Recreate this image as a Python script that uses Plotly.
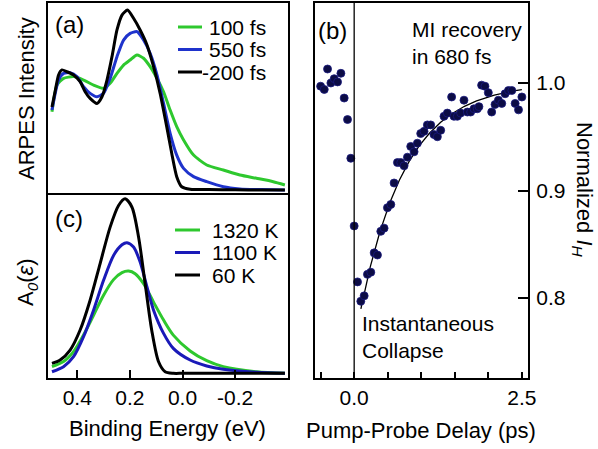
import numpy as np
import plotly.graph_objects as go

W, H = 598, 449
FONT = "Liberation Sans"

# ---------------- Panel (a): ARPES spectra (binding energy eV, intensity a.u.) -------------
a_names = ["100 fs", "550 fs", "-200 fs"]
a_colors = ["#2ec82e", "#1f33cc", "#000000"]

a_black_E = [0.496, 0.483, 0.471, 0.458, 0.439, 0.414, 0.389, 0.370, 0.351, 0.325, 0.306, 0.287,
             0.268, 0.249, 0.230, 0.209, 0.186, 0.161, 0.135, 0.110, 0.085, 0.060, 0.041, 0.022,
             0.003, -0.029, -0.100, -0.200, -0.300, -0.389]
a_black_I = [0.461, 0.556, 0.639, 0.667, 0.657, 0.639, 0.602, 0.546, 0.509, 0.481, 0.518, 0.611,
             0.741, 0.889, 0.972, 1.000, 0.954, 0.889, 0.806, 0.685, 0.537, 0.352, 0.204, 0.074,
             0.018, 0.004, 0.002, 0.001, 0.000, 0.000]

a_blue_E = [0.496, 0.471, 0.452, 0.427, 0.401, 0.376, 0.351, 0.325, 0.300, 0.275, 0.249, 0.224,
            0.199, 0.173, 0.148, 0.123, 0.097, 0.072, 0.047, 0.022, -0.004, -0.042, -0.092,
            -0.155, -0.218, -0.300, -0.389]
a_blue_I = [0.444, 0.611, 0.648, 0.652, 0.630, 0.574, 0.537, 0.518, 0.537, 0.620, 0.741, 0.833,
            0.870, 0.880, 0.833, 0.759, 0.639, 0.481, 0.315, 0.194, 0.120, 0.074, 0.046,
            0.018, 0.006, 0.002, 0.000]

a_green_E = [0.496, 0.477, 0.452, 0.414, 0.376, 0.338, 0.300, 0.275, 0.249, 0.224, 0.199, 0.173,
             0.148, 0.123, 0.097, 0.072, 0.047, 0.022, -0.004, -0.042, -0.092, -0.155, -0.218,
             -0.281, -0.345, -0.389]
a_green_I = [0.435, 0.583, 0.620, 0.630, 0.611, 0.583, 0.565, 0.593, 0.648, 0.694, 0.722, 0.750,
             0.732, 0.685, 0.620, 0.546, 0.444, 0.352, 0.278, 0.194, 0.139, 0.111, 0.083,
             0.065, 0.046, 0.028]

# ---------------- Panel (c): model spectral functions A0(eps) -------------
c_names = ["1320 K", "1100 K", "60 K"]
c_colors = ["#2ec82e", "#1a1ab8", "#000000"]

c_black_E = [0.496, 0.465, 0.427, 0.389, 0.351, 0.313, 0.275, 0.243, 0.218, 0.192, 0.167, 0.142,
             0.117, 0.091, 0.066, 0.035, 0.000, -0.100, -0.200, -0.300, -0.389]
c_black_I = [0.057, 0.076, 0.133, 0.248, 0.419, 0.629, 0.838, 0.962, 1.000, 0.952, 0.781, 0.514,
             0.247, 0.066, 0.009, 0.000, 0.000, 0.000, 0.000, 0.000, 0.000]

c_blue_E = [0.496, 0.452, 0.414, 0.376, 0.338, 0.300, 0.262, 0.230, 0.211, 0.186, 0.161, 0.135,
            0.110, 0.072, 0.035, -0.029, -0.092, -0.155, -0.282, -0.389]
c_blue_I = [0.009, 0.038, 0.095, 0.210, 0.362, 0.533, 0.676, 0.737, 0.749, 0.724, 0.638, 0.495,
            0.362, 0.229, 0.143, 0.076, 0.042, 0.023, 0.006, 0.000]

c_green_E = [0.496, 0.452, 0.414, 0.376, 0.338, 0.300, 0.262, 0.230, 0.205, 0.180, 0.148, 0.110,
             0.072, 0.035, -0.029, -0.092, -0.155, -0.282, -0.389]
c_green_I = [0.038, 0.067, 0.124, 0.219, 0.333, 0.448, 0.537, 0.577, 0.586, 0.571, 0.514, 0.408,
             0.305, 0.219, 0.128, 0.072, 0.038, 0.009, 0.000]

# ---------------- Panel (b): normalized I_H vs pump-probe delay (ps) -------------
b_t = [-0.50, -0.446, -0.397, -0.347, -0.298, -0.248, -0.198, -0.149, -0.099, -0.050,
       0.000, 0.050, 0.099, 0.149, 0.198, 0.248, 0.298, 0.347, 0.397, 0.446, 0.496, 0.546,
       0.595, 0.645, 0.694, 0.744, 0.794, 0.843, 0.893, 0.942, 0.992, 1.042, 1.091, 1.141,
       1.190, 1.240, 1.290, 1.339, 1.389, 1.453, 1.488, 1.538, 1.587, 1.637, 1.687, 1.736,
       1.786, 1.835, 1.860, 1.900, 1.950, 2.000, 2.050, 2.100, 2.150, 2.200, 2.250, 2.300,
       2.350, 2.400, 2.450, 2.500]
b_I = [0.997, 0.994, 1.013, 1.000, 1.004, 1.001, 1.009, 0.986, 0.966, 0.930,
       0.867, 0.815, 0.797, 0.802, 0.822, 0.824, 0.842, 0.840, 0.862, 0.865, 0.884, 0.887,
       0.907, 0.926, 0.926, 0.923, 0.931, 0.941, 0.936, 0.944, 0.953, 0.955, 0.961, 0.961,
       0.952, 0.950, 0.956, 0.969, 0.972, 0.987, 0.969, 0.969, 0.972, 0.984, 0.973, 0.973,
       0.976, 0.976, 0.978, 0.998, 0.997, 0.991, 0.973, 0.980, 0.984, 0.981, 0.990, 0.993,
       0.993, 0.981, 0.975, 0.987]

# exponential recovery fit (tau = 680 fs)
fit_tau = 0.68
fit_offset = 1.0
fit_amp = 0.2435
fit_start, fit_end = 0.10, 2.50

a_ticks = [0.4, 0.2, 0.0, -0.2]
a_ticklabels = ["0.4", "0.2", "0.0", "-0.2"]
b_yticks = [0.8, 0.9, 1.0]
b_yticklabels = ["0.8", "0.9", "1.0"]


def px(x):
    return x / W


def py(y):
    return 1 - y / H


fig = go.Figure()

a_series = [(a_green_E, a_green_I), (a_blue_E, a_blue_I), (a_black_E, a_black_I)]
for (E, I), name, col in zip(a_series, a_names, a_colors):
    fig.add_trace(go.Scatter(x=E, y=I, mode="lines", name=name, xaxis="x", yaxis="y",
                             line=dict(color=col, width=3, shape="spline", smoothing=0.6),
                             showlegend=False))

c_series = [(c_green_E, c_green_I), (c_blue_E, c_blue_I), (c_black_E, c_black_I)]
for (E, I), name, col in zip(c_series, c_names, c_colors):
    fig.add_trace(go.Scatter(x=E, y=I, mode="lines", name=name, xaxis="x3", yaxis="y3",
                             line=dict(color=col, width=3, shape="spline", smoothing=0.8),
                             showlegend=False))

fit_t = np.linspace(fit_start, fit_end, 200)
fit_I = fit_offset - fit_amp * np.exp(-fit_t / fit_tau)
fig.add_trace(go.Scatter(x=fit_t, y=fit_I, mode="lines", xaxis="x2", yaxis="y2",
                         line=dict(color="black", width=1.3), showlegend=False))
fig.add_trace(go.Scatter(x=b_t, y=b_I, mode="markers", xaxis="x2", yaxis="y2",
                         marker=dict(color="#0c0c45", size=8,
                                     line=dict(color="#1a1a80", width=0.8)),
                         showlegend=False))

axis_common = dict(showline=True, mirror=True, linecolor="black", linewidth=1.5,
                   showgrid=False, zeroline=False, automargin=False)
tickfont = dict(family=FONT, size=21, color="black")

fig.update_layout(
    width=W, height=H, margin=dict(l=0, r=0, t=0, b=0, autoexpand=False),
    paper_bgcolor="white", plot_bgcolor="white",
    font=dict(family=FONT, size=21, color="black"),
    xaxis=dict(domain=[px(47.5), px(288.3)], range=[0.513, -0.402], anchor="y",
               showticklabels=False, ticks="", **axis_common),
    yaxis=dict(domain=[py(192.5), py(3)], range=[-0.014, 1.039], anchor="x",
               showticklabels=False, ticks="", **axis_common),
    xaxis3=dict(domain=[px(47.5), px(288.3)], range=[0.513, -0.402], anchor="y3",
                tickvals=a_ticks, ticktext=a_ticklabels, ticks="inside", ticklen=8,
                tickwidth=1.5, tickcolor="black", tickfont=tickfont, ticklabelstandoff=0,
                **axis_common),
    yaxis3=dict(domain=[py(378), py(194.5)], range=[-0.027, 1.025], anchor="x3",
                showticklabels=False, ticks="", **axis_common),
    xaxis2=dict(domain=[px(315), px(528.3)], range=[-0.584, 2.596], anchor="y2",
                tick0=0, dtick=2.5, tickformat=".1f", ticks="inside", ticklen=6,
                tickwidth=1.5, tickcolor="black", tickfont=tickfont, ticklabelstandoff=0,
                minor=dict(dtick=0.5, tick0=0, ticks="inside", ticklen=6, tickwidth=1.5,
                           tickcolor="black", showgrid=False),
                **axis_common),
    yaxis2=dict(domain=[py(378), py(3)], range=[0.7256, 1.0744], anchor="x2", side="right",
                tickvals=b_yticks, ticktext=b_yticklabels, ticks="inside", ticklen=11,
                tickwidth=1.5, tickcolor="black", tickfont=tickfont, ticklabelstandoff=2,
                **axis_common),
)

# vertical line at zero delay
fig.add_shape(type="line", xref="x2", yref="y2 domain", x0=0, x1=0, y0=0, y1=1,
              line=dict(color="black", width=1.3))

ann = []


def text(x, y, s, size=21, xanchor="left", yanchor="middle", angle=0, align="left"):
    ann.append(dict(x=px(x), y=py(y), xref="paper", yref="paper", text=s, showarrow=False,
                    xanchor=xanchor, yanchor=yanchor, textangle=angle, align=align,
                    font=dict(family=FONT, size=size, color="black")))


# panel labels
text(53, 24, "(a)", size=24)
text(53, 218, "(c)", size=24)
text(316, 31, "(b)", size=24)

# legends (manual)
a_rows = [27, 49.5, 72]
for name, col, yy in zip(a_names, a_colors, a_rows):
    fig.add_shape(type="line", xref="paper", yref="paper", x0=px(178), x1=px(202),
                  y0=py(yy), y1=py(yy), line=dict(color=col, width=3))
    text(268, yy, name, xanchor="right", align="right")

c_rows = [230, 252.5, 275]
for name, col, yy in zip(c_names, c_colors, c_rows):
    fig.add_shape(type="line", xref="paper", yref="paper", x0=px(175), x1=px(200),
                  y0=py(yy), y1=py(yy), line=dict(color=col, width=3))
    text(210, yy, name, xanchor="left")

# panel (b) texts
text(410, 43, "MI recovery<br>in 680 fs")
text(360, 337, "Instantaneous<br>Collapse")

# axis titles
text(27, 99, "ARPES Intensity", size=22, xanchor="center", angle=-90)
text(27, 282, "A<sub><i>0</i></sub>(<i>ε</i>)", size=22, xanchor="center", angle=-90)
text(167.5, 428, "Binding Energy (eV)", size=22, xanchor="center")
text(421, 430, "Pump-Probe Delay (ps)", size=22, xanchor="center")
text(583, 190, "Normalized <i>I</i><sub><i>H</i></sub>", size=22, xanchor="center", angle=90)

fig.update_layout(annotations=ann)
fig.write_html("out.html", config={"displayModeBar": False},
               post_script="document.body.style.margin='0px';document.body.style.padding='0px';")
